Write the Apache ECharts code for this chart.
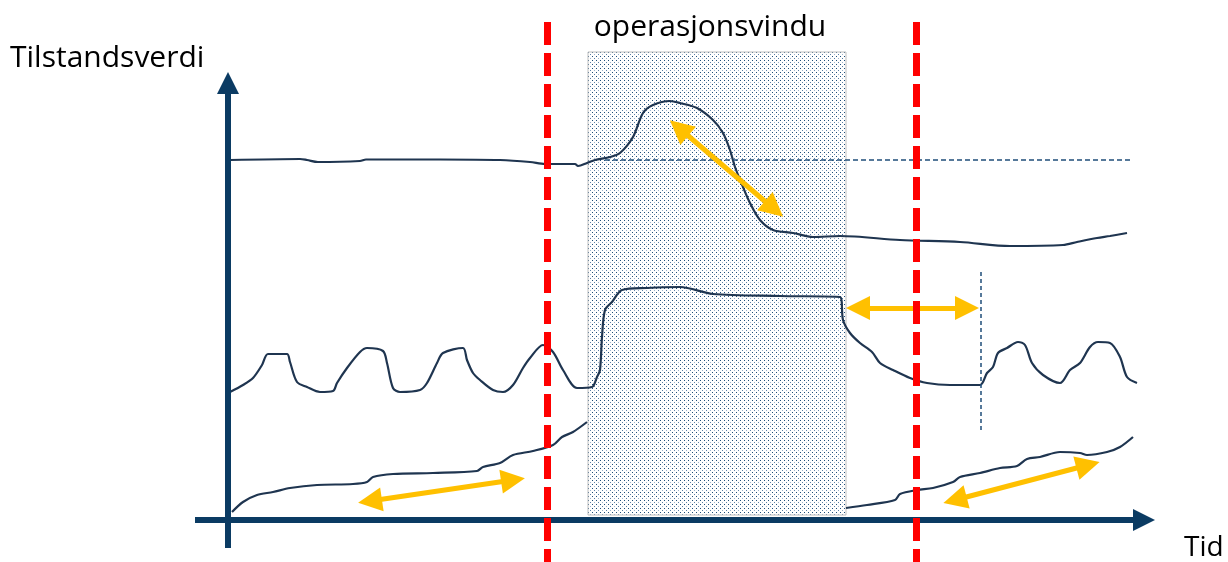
<!DOCTYPE html>
<html>
<head>
<meta charset="utf-8">
<title>Tilstandsverdi over tid</title>
<style type="text/css">
html,body{margin:0;padding:0;background:#fff;}
#chart{width:1228px;height:562px;}
</style>
<script src="https://cdn.jsdelivr.net/npm/echarts@6/dist/echarts.min.js"></script>
</head>
<body>
<div id="chart"></div>
<script type="text/javascript">
// tid (x) og tilstandsverdi (y), lest av figuren
var kurveTopp = [[0.2,72],[7.2,72.2],[7.9,72],[9,71.6],[13.2,71.8],[13.8,72.1],[21.2,72.1],[27.2,72],[30.2,71.6],[31.7,71.2],[34.7,71.2],[35,70.8],[35.9,71.4],[36.7,72],[38.2,72.6],[39.2,73.4],[40.5,76.6],[41.5,81.4],[42.5,83],[44.2,83.8],[45.2,83.4],[46.9,82.4],[48.5,80],[49.5,77.4],[50.2,74],[50.7,70.6],[51.5,66.6],[52.2,63.4],[53.2,60],[54.5,58],[56.5,57.4],[58.5,56.6],[61.2,56.8],[67.2,56],[73.2,55.6],[78.2,54.8],[83.5,55],[84.9,55.6],[86.9,56.4],[88.2,56.8],[89.9,57.4]];
var kurveMidt = [[0.2,25.6],[1.5,27],[2.5,28.4],[3.4,31],[4,33.2],[5.9,33.2],[6.2,31.6],[6.9,27.6],[7.9,26.6],[9.2,25.6],[10.5,25.8],[10.9,27.4],[11.9,30.4],[13.2,33.6],[13.9,34.4],[15.5,33.8],[15.9,31.4],[16.5,26.4],[17.2,25.6],[19.2,26],[19.9,27.4],[20.9,31.4],[21.5,33.4],[23.5,34.4],[23.9,32],[24.5,29.4],[25.2,28],[26.5,26],[27.5,25.6],[28.5,27],[29.5,30.4],[30.2,32.4],[31.5,35],[32.5,33.6],[33.5,30],[34.9,26.4],[36.4,26.6],[36.9,28.6],[37.2,30],[37.4,36.6],[37.7,42],[38.4,43.6],[39.4,46],[41.9,46.4],[45.2,46.6],[48.5,45.2],[55.2,44.8],[61.2,44.6],[61.5,40],[62.2,37.4],[63.2,35.4],[64.4,33.6],[65.2,31.4],[66.5,30],[68.2,28.4],[69.9,27.4],[72.2,27],[75.2,27],[75.9,29.4],[76.5,30.6],[77,33.4],[77.9,34.4],[79,35.6],[79.7,35],[80.4,31.4],[81.5,29],[83.2,27.4],[84.2,30],[85.2,31.4],[86.2,34.6],[87,35.6],[88.2,35.4],[89.2,32.6],[89.9,28.6],[90.9,27.4]];
var kurveBunnFoer = [[0.4,1.6],[1.5,3.6],[2.9,5],[4.5,5.6],[6.2,6.4],[8.9,7],[12.5,7.2],[13.9,7.6],[14.5,8.6],[16.5,9.2],[20.5,9.4],[24.9,9.8],[25.5,10.6],[27.2,11.4],[28.5,13],[30.5,13.8],[32.5,15],[33.4,16.6],[34.5,17.6],[35.9,19.6]];
var kurveBunnEtter = [[61.8,2.4],[63.9,3],[66.7,4],[67.2,5.2],[68.9,6],[70.5,6.4],[72.5,7.6],[73.2,8.6],[75.2,9.4],[77.2,10.4],[78.9,10.8],[79.9,12.2],[81.2,12.6],[83.2,13.6],[85.2,13.4],[85.9,13],[87.9,13.6],[89.2,14.6],[90.5,16.6]];

var referanseNivaa = [[37.7,72],[90.2,72]];
var stoppLinje = [[75.3,49.6],[75.3,18]];

var vinduX = [36, 61.8];
var vinduY = [1, 93.6];
var grenserX = [31.9, 68.8];
var grenseY = [99.6, -8.4];

// doble piler (midtpunkt av pilhodene)
var piler = [
  [[45.1,78.4],[54.6,62.2]],
  [[63,42.4],[73.9,42.4]],
  [[14.2,3.8],[28.5,8.0]],
  [[72.7,4],[86,11]]
];

var xAkse = [[-3.3,0],[91.6,0]];
var yAkse = [[0,-5.6],[0,87.4]];

var tittelY = 'Tilstandsverdi';
var tittelX = 'Tid';
var tittelVindu = 'operasjonsvindu';

var myChart = echarts.init(document.getElementById('chart'));

// prikkete fyll for operasjonsvinduet
var tile = document.createElement('canvas');
tile.width = 8; tile.height = 8;
var c = tile.getContext('2d');
c.fillStyle = '#ffffff'; c.fillRect(0,0,8,8);
c.fillStyle = '#1F4E79';
c.fillRect(0,0,1,1); c.fillRect(4,0,1,1); c.fillRect(0,4,1,1); c.fillRect(4,4,1,1);
c.fillStyle = '#5B7FA6';
c.fillRect(2,2,1,1); c.fillRect(6,6,1,1);
c.fillStyle = '#9DB2C9';
c.fillRect(2,6,1,1); c.fillRect(6,2,1,1);

var navy = '#0B3B63';
var kurveFarge = '#1F3550';

function strek(data) {
  return {
    type: 'line', data: data, showSymbol: false, smooth: 0.3, silent: true, z: 3,
    lineStyle: { color: kurveFarge, width: 2.2 }
  };
}

function tekst(t, x, y, size, align) {
  return {
    type: 'text', x: x, y: y,
    style: { text: t, fontSize: size, fontFamily: 'Open Sans', fill: '#000', align: align, verticalAlign: 'middle' }
  };
}

var option = {
  animation: false,
  grid: { left: 0, right: 0, top: 0, bottom: 0 },
  xAxis: { type: 'value', min: -22.8, max: 100, show: false },
  yAxis: { type: 'value', min: -8.4, max: 104, show: false },
  graphic: [
    tekst(tittelY, 10, 58, 30, 'left'),
    tekst(tittelVindu, 710, 27, 30, 'center'),
    tekst(tittelX, 1184, 548, 28, 'left')
  ],
  series: [
    {
      name: 'vindu', type: 'line', data: [], silent: true,
      markArea: {
        silent: true,
        itemStyle: { color: { image: tile, repeat: 'repeat' }, borderColor: '#BFBFBF', borderWidth: 1 },
        data: [[{ coord: [vinduX[0], vinduY[1]] }, { coord: [vinduX[1], vinduY[0]] }]]
      }
    },
    strek(kurveTopp),
    strek(kurveMidt),
    strek(kurveBunnFoer),
    strek(kurveBunnEtter),
    {
      type: 'line', data: referanseNivaa, showSymbol: false, silent: true, z: 3,
      lineStyle: { color: '#1F4E79', width: 1.5, type: [5, 3] }
    },
    {
      type: 'line', data: stoppLinje, showSymbol: false, silent: true, z: 3,
      lineStyle: { color: '#1F4E79', width: 1.5, type: [4, 3] }
    },
    {
      name: 'akser', type: 'line', data: [], silent: true,
      markLine: {
        silent: true, z: 4, animation: false,
        symbol: ['none', 'triangle'], symbolSize: [22, 22],
        label: { show: false },
        lineStyle: { color: navy, width: 6, type: 'solid' },
        data: [
          [{ coord: xAkse[0] }, { coord: xAkse[1] }],
          [{ coord: yAkse[0] }, { coord: yAkse[1] }]
        ]
      }
    },
    {
      name: 'piler', type: 'line', data: [], silent: true,
      markLine: {
        silent: true, z: 5, animation: false,
        symbol: ['triangle', 'triangle'], symbolSize: [24, 24],
        label: { show: false },
        lineStyle: { color: '#FFC000', width: 5, type: 'solid' },
        data: piler.map(function (p) { return [{ coord: p[0] }, { coord: p[1] }]; })
      }
    },
    {
      name: 'grenser', type: 'line', data: [], silent: true,
      markLine: {
        silent: true, z: 6, animation: false,
        symbol: ['none', 'none'],
        label: { show: false },
        lineStyle: { color: '#FF0000', width: 7, type: [23, 8] },
        data: grenserX.map(function (x) { return [{ coord: [x, grenseY[0]] }, { coord: [x, grenseY[1]] }]; })
      }
    }
  ]
};
myChart.setOption(option);
</script>
</body>
</html>
